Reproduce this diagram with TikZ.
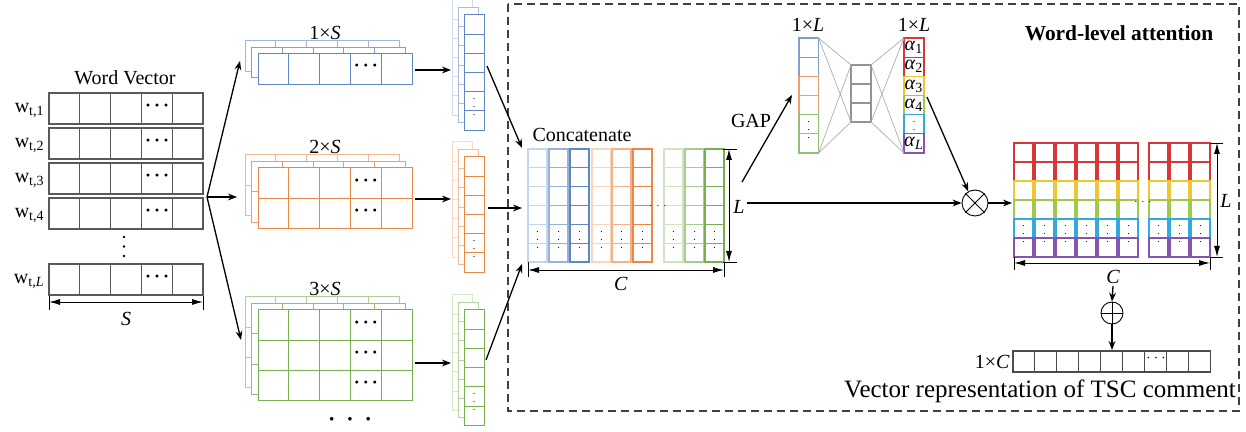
\documentclass[tikz,border=0pt]{standalone}
\usepackage{fontspec}
\IfFontExistsTF{LiberationSerif-Regular.ttf}
  {\setmainfont{LiberationSerif}[Extension=.ttf, UprightFont=*-Regular,
     BoldFont=*-Bold, ItalicFont=*-Italic, BoldItalicFont=*-BoldItalic]}
  {\setmainfont{Liberation Serif}}
\usetikzlibrary{arrows.meta,calc}

\definecolor{cnnblue}{RGB}{95,135,195}
\definecolor{cnnorange}{RGB}{235,135,70}
\definecolor{cnngreen}{RGB}{120,175,85}
\definecolor{attred}{RGB}{215,55,55}
\definecolor{attyellow}{RGB}{235,200,50}
\definecolor{attgreen}{RGB}{160,200,75}
\definecolor{attcyan}{RGB}{50,170,225}
\definecolor{attviolet}{RGB}{135,85,175}

\begin{document}
\begin{tikzpicture}[
  x=0.5pt, y=-0.5pt,
  cell/.style={line width=0.55pt, fill=white},
  fmap/.style={line width=0.5pt, fill=white},
  arr/.style={-{Stealth[length=4.5pt, width=3.4pt]}, line width=0.65pt},
  dimline/.style={{Latex[length=5.5pt, width=3pt]}-{Latex[length=5.5pt, width=3pt]}, line width=0.45pt},
  dimtick/.style={line width=0.45pt},
  lab/.style={font=\fontsize{10}{12}\selectfont, inner sep=1pt},
  celldots/.style={font=\scriptsize, inner sep=0pt},
  bigdots/.style={font=\fontsize{9}{10}\selectfont\bfseries, inner sep=0pt},
  fclink/.style={gray!65, line width=0.35pt},
  attframe/.style={dash pattern=on 4pt off 2.5pt, line width=0.6pt, black!75},
  opnode/.style={circle, draw, inner sep=0pt, line width=0.45pt}
]
  \useasboundingbox (0,0) rectangle (1246,432);

  % --- word vectors w_{t,1} ... w_{t,L} ---------------------------------
  \node[lab] (wvtitle) at (125,78) {Word Vector};
  \foreach \wy in {93,128,163,198,264}
    \foreach \wc in {0,...,4}
      \draw[cell, draw=black!65] (49+30.8*\wc,\wy) rectangle ++(30.8,31);
  \foreach \wy [count=\wi] in {93,128,163,198,264}
    \node[bigdots] (wdots\wi) at (157.2,\wy+14.5) {·\,·\,·};
  \foreach \wy/\wn [count=\wi] in {93/1,128/2,163/3,198/4}
    \node[lab, anchor=east] (wlab\wi) at (47,\wy+17) {w\textsubscript{t,\wn}};
  \node[lab, anchor=east] (wlab5) at (47,281) {w\textsubscript{t,\textit{L}}};
  \foreach \vy in {237,246.5,256}
    \fill (124,\vy) circle (1.4);
  \draw[dimtick] (49,296) -- (49,310) (203,296) -- (203,310);
  \draw[dimline] (49,302) -- (203,302);
  \node[lab] (wvS) at (126,319) {\textit{S}};

  % --- branches to the three filter sizes --------------------------------
  \coordinate (br) at (207,197);
  \coordinate (toB) at (240,61);
  \coordinate (toO) at (237,197);
  \coordinate (toG) at (241,340);
  \draw[arr] (br) -- (toB);
  \draw[arr] (br) -- (toO);
  \draw[arr] (br) -- (toG);

  % --- feature maps 1xS, 2xS, 3xS ----------------------------------------
  \foreach \fcol/\ftop/\fn in {cnnblue/54/1, cnnorange/168/2, cnngreen/310/3} {
    \foreach \flay/\fsh in {2/60,1/80,0/100}
      \foreach \fr in {1,...,\fn}
        \foreach \fc in {0,...,4}
          \draw[fmap, draw=\fcol!\fsh] (258-6.5*\flay+30.8*\fc, \ftop-6.5*\flay+30.3*\fr-30.3) rectangle ++(30.8,30.3);
    \foreach \fr in {1,...,\fn}
      \node[bigdots] (fdots\fn\fr) at (365.8, \ftop+30.3*\fr-16) {·\,·\,·};
    \node[lab] (flab\fn) at (325,\ftop-21) {\fn×\textit{S}};
  }
  \node[font=\fontsize{11}{12}\selectfont\bfseries, inner sep=0pt] (fmore) at (350,422) {·\enspace·\enspace·};

  % --- pooled columns -----------------------------------------------------
  \foreach \fcol/\ftop/\fn in {cnnblue/15/1, cnnorange/157/2, cnngreen/310/3} {
    \foreach \flay/\fsh in {2/30,1/55,0/100}
      \foreach \fr in {0,...,5}
        \draw[fmap, draw=\fcol!\fsh] (464-6*\flay, \ftop-7.5*\flay+19.2*\fr) rectangle ++(20,19.2);
    \node[celldots, font=\tiny] (pdots\fn) at (474, \ftop+86.4) {$\vdots$};
  }
  \foreach \py [count=\pi] in {70,199,363} {
    \coordinate (fOut\pi) at (415,\py);
    \coordinate (pIn\pi) at (451,\py);
    \draw[arr] (fOut\pi) -- (pIn\pi);
  }

  % --- word-level attention frame ----------------------------------------
  \draw[attframe] (508,4) rectangle (1239,411);
  \node[font=\fontsize{10.7}{12}\selectfont\bfseries, inner sep=1pt] (wla) at (1119,33) {Word-level attention};

  % --- concatenated map ----------------------------------------------------
  \coordinate (pOut1) at (487,66);   \coordinate (cIn1) at (522,148);
  \coordinate (pOut2) at (488,208);  \coordinate (cIn2) at (522,208);
  \coordinate (pOut3) at (486,360);  \coordinate (cIn3) at (522,264);
  \draw[arr] (pOut1) -- (cIn1);
  \draw[arr] (pOut2) -- (cIn2);
  \draw[arr] (pOut3) -- (cIn3);
  \node[lab] (concat) at (582,135) {Concatenate};
  \foreach \cx/\ccol [count=\ci] in {528/cnnblue!35, 549/cnnblue!65, 570/cnnblue,
      592/cnnorange!35, 612/cnnorange!65, 633/cnnorange,
      664/cnngreen!35, 685/cnngreen!65, 705/cnngreen} {
    \foreach \cr in {0,...,5}
      \draw[cell, draw=\ccol] (\cx,149+18.83*\cr) rectangle ++(19,18.83);
    \node[celldots, font=\tiny] (cdots\ci) at (\cx+9.5,234.5) {$\vdots$};
  }
  \node[celldots, font=\tiny] (cgap) at (658,206) {$\cdots$};
  \draw[dimtick] (723,149) -- (737,149) (723,262) -- (737,262);
  \draw[dimline] (729,149) -- (729,262);
  \draw[dimtick] (528,262) -- (528,277) (724,262) -- (724,277);
  \draw[dimline] (528,270) -- (724,270);
  \node[lab] (cL) at (739,207) {\textit{L}};
  \node[lab] (cC) at (621,284) {\textit{C}};

  % --- GAP and the two-layer attention net --------------------------------
  \coordinate (gapS) at (742,182);
  \coordinate (gapE) at (792,95);
  \draw[arr] (gapS) -- (gapE);
  \node[lab] (gap) at (751,121) {GAP};

  \foreach \acol [count=\ai from 0] in {cnnblue, cnnblue, cnnorange, cnnorange, cnngreen, cnngreen}
    \draw[cell, draw=\acol!80] (799,38+19.17*\ai) rectangle ++(19.5,19.17);
  \node[celldots, font=\tiny] (gdots) at (808.7,124.3) {$\vdots$};
  \foreach \ai in {0,1,2}
    \draw[cell, draw=gray!85] (851,65+19*\ai) rectangle ++(20,19);
  \foreach \acol [count=\ai from 0] in {attred, attred, attyellow, attgreen, attcyan, attviolet}
    \draw[cell, draw=\acol] (904,38+19.17*\ai) rectangle ++(20,19.17);
  \foreach \an [count=\ai from 0] in {1,2,3,4}
    \node[lab, inner sep=0pt] (alpha\an) at (914,47.6+19.17*\ai) {\textit{α}\textsubscript{\an}};
  \node[celldots, font=\tiny] (alphadots) at (914,124.3) {$\vdots$};
  \node[lab, inner sep=0pt] (alphaL) at (914,143.4) {\textit{α}\textsubscript{\textit{L}}};
  \node[lab] (gapL) at (808,25) {1×\textit{L}};
  \node[lab] (attL) at (914,25) {1×\textit{L}};

  % fully connected links
  \coordinate (inT) at (818.5,38);  \coordinate (inB) at (818.5,153);
  \coordinate (hidLT) at (851,65);  \coordinate (hidLB) at (851,122);
  \coordinate (hidRT) at (871,65);  \coordinate (hidRB) at (871,122);
  \coordinate (outT) at (904,38);   \coordinate (outB) at (904,153);
  \draw[fclink] (inT) -- (hidLT) (inT) -- (hidLB) (inB) -- (hidLT) (inB) -- (hidLB);
  \draw[fclink] (hidRT) -- (outT) (hidRT) -- (outB) (hidRB) -- (outT) (hidRB) -- (outB);

  % --- weighting -------------------------------------------------------------
  \node[opnode, minimum size=13pt] (ot) at (975,203) {};
  \draw[line width=0.45pt] (ot.north west) -- (ot.south east) (ot.north east) -- (ot.south west);
  \coordinate (alphaOut) at (927,97);
  \draw[arr] (alphaOut) -- (ot.120);
  \draw[arr] (cL.east |- ot.west) -- (ot.west);
  \coordinate (wIn) at (1012,203);
  \draw[arr] (ot.east) -- (wIn);

  % --- weighted map ----------------------------------------------------------
  \foreach \mx [count=\mi] in {1014,1035,1056,1077,1098,1119,1149,1170,1191} {
    \foreach \mr/\mcol in {0/attred,1/attred,2/attyellow,3/attgreen,4/attcyan,5/attviolet}
      \draw[cell, draw=\mcol] (\mx,143+19*\mr) rectangle ++(19,19);
    \node[celldots, font=\tiny] (mdots\mi) at (\mx+9.5,228.5) {$\vdots$};
  }
  \node[celldots, font=\tiny] (mgap) at (1143,202) {$\cdots$};
  \draw[dimtick] (1210,143) -- (1223,143) (1210,257) -- (1223,257);
  \draw[dimline] (1217,143) -- (1217,257);
  \draw[dimtick] (1014,257) -- (1014,270) (1210,257) -- (1210,270);
  \draw[dimline] (1014,263) -- (1210,263);
  \node[lab] (mL) at (1226,201) {\textit{L}};
  \node[lab] (mC) at (1113,277) {\textit{C}};

  % --- sum over rows -> comment vector ---------------------------------------
  \node[opnode, minimum size=11pt] (op) at (1112,313) {};
  \draw[line width=0.45pt] (op.north) -- (op.south) (op.west) -- (op.east);
  \draw[arr] (mC.south) -- (op.north);
  \coordinate (vIn) at (1112,350);
  \draw[arr] (op.south) -- (vIn);
  \foreach \vc in {0,...,8}
    \draw[cell, draw=black!70] (1013+21.9*\vc,351) rectangle ++(21.9,21);
  \node[celldots] (vdots) at (1156,358) {$\cdots$};
  \node[lab, anchor=east] (vC) at (1012,362) {1×\textit{C}};
  \node[font=\fontsize{12.5}{14}\selectfont, inner sep=1pt] (vrep) at (1040,391) {Vector representation of TSC comment};
\end{tikzpicture}
\end{document}
